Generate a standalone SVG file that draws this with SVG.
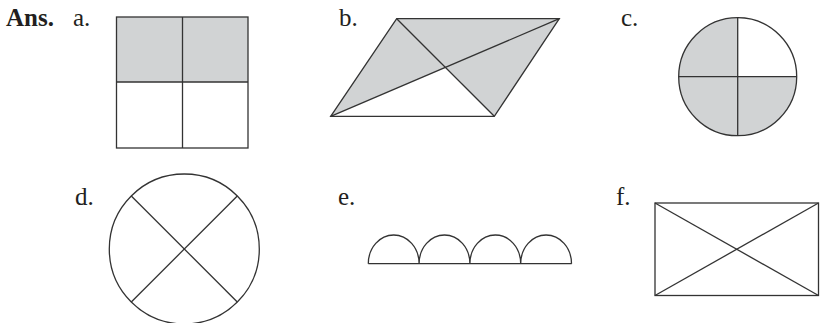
<svg xmlns="http://www.w3.org/2000/svg" width="820" height="323" viewBox="0 0 820 323">
<style>
text{font-family:"Liberation Serif","Times New Roman",serif;font-size:25px;fill:#231f20}
.b{font-weight:bold}
.s{stroke:#333;stroke-width:1.3;fill:none;stroke-linejoin:miter}
.f{fill:#d1d3d4;stroke:none}
</style>
<rect width="820" height="323" fill="#fff"/>
<g id="labels">
<text class="b" x="6" y="26">Ans.</text>
<text x="73" y="26">a.</text>
<text x="339" y="26">b.</text>
<text x="621" y="26">c.</text>
<text x="75" y="205">d.</text>
<text x="338" y="205">e.</text>
<text x="616" y="205">f.</text>
</g>
<g id="a">
<rect class="f" x="116.5" y="17" width="131.5" height="65"/>
<rect class="s" x="116.5" y="17" width="131.5" height="131"/>
<line class="s" x1="182.5" y1="17" x2="182.5" y2="148"/>
<line class="s" x1="116.5" y1="82" x2="248" y2="82"/>
</g>
<g id="b">
<polygon class="f" points="396.7,18.7 559.3,18.7 494.3,116.3 445.5,67.5 330.7,116.3"/>
<polygon class="s" points="396.7,18.7 559.3,18.7 494.3,116.3 330.7,116.3"/>
<line class="s" x1="396.7" y1="18.7" x2="494.3" y2="116.3"/>
<line class="s" x1="559.3" y1="18.7" x2="330.7" y2="116.3"/>
</g>
<g id="c">
<path class="f" d="M737.7,76.7 L737.7,17.7 A59,59 0 1,0 796.7,76.7 Z"/>
<circle class="s" cx="737.7" cy="76.7" r="59"/>
<line class="s" x1="737.7" y1="17.7" x2="737.7" y2="135.7"/>
<line class="s" x1="678.7" y1="76.7" x2="796.7" y2="76.7"/>
</g>
<g id="d">
<circle class="s" cx="184.3" cy="249" r="75"/>
<line class="s" x1="131.3" y1="196" x2="237.3" y2="302"/>
<line class="s" x1="237.3" y1="196" x2="131.3" y2="302"/>
</g>
<g id="e">
<line class="s" x1="368.3" y1="263.7" x2="571.7" y2="263.7"/>
<path class="s" d="M368.3,263.7 A25.4,28.7 0 0,1 419.1,263.7 A25.4,28.7 0 0,1 469.9,263.7 A25.4,28.7 0 0,1 520.7,263.7 A25.4,28.7 0 0,1 571.5,263.7"/>
</g>
<g id="f">
<rect class="s" x="655" y="203" width="163.5" height="92.5"/>
<line class="s" x1="655" y1="203" x2="818.5" y2="295.5"/>
<line class="s" x1="818.5" y1="203" x2="655" y2="295.5"/>
</g>
</svg>
